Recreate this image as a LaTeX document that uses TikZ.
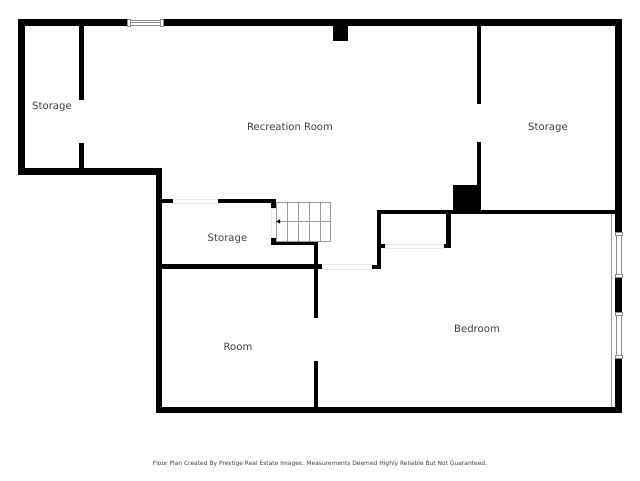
\documentclass[tikz,border=0pt]{standalone}
\usepackage{fontspec}
\usetikzlibrary{arrows.meta}
\setmainfont{DejaVu Sans}
\tikzset{
  wall/.style={line width=4.4pt, line cap=butt, line join=miter, black},
  outerwall/.style={line width=6.6pt, line cap=butt, line join=miter, black},
  block/.style={fill=black, draw=none},
  door/.style={fill=white, draw=black!8, line width=0.4pt},
  glass/.style={fill=white, draw=black!45, line width=0.5pt},
  tread/.style={draw=black!40, line width=0.5pt},
  roomlabel/.style={text=black!75, font=\fontsize{10.1}{12}\selectfont, inner sep=0pt},
}
\begin{document}
\begin{tikzpicture}[x=1pt, y=-1pt]
\useasboundingbox (0,0) rectangle (640,480);
% outer walls
\draw[outerwall] (21.3,171.6) -- (21.3,22.6) -- (618.6,22.6) -- (618.6,410) -- (159,410) -- (159,171.6) -- cycle;
% top window
\fill[white] (127,19) rectangle (163,26);
\draw[glass] (127,19.3) rectangle (130,26);
\draw[glass] (160,19.3) rectangle (163,26);
\draw[glass] (130,20.5) rectangle (160,24.8);
\draw[glass] (130,22.6) -- (160,22.6);
% right windows
\fill[white] (615,232) rectangle (622,277);
\draw[glass] (615,232) rectangle (622,235);
\draw[glass] (615,274) rectangle (622,277);
\draw[glass] (616,235) rectangle (621,274);
\fill[white] (615,312) rectangle (622,358);
\draw[glass] (615,312) rectangle (622,315);
\draw[glass] (615,355) rectangle (622,358);
\draw[glass] (616,315) rectangle (621,355);
\draw[draw=black!40, line width=0.7pt] (611,214) -- (611,407);
% inner walls
\draw[wall] (81.6,26) -- (81.6,100);
\draw[wall] (81.6,143) -- (81.6,168);
\draw[wall] (479,26) -- (479,104);
\draw[wall] (479,142) -- (479,210);
\draw[wall] (376.8,212.2) -- (615,212.2);
\draw[wall] (379,210) -- (379,269);
\draw[wall] (370.8,266.8) -- (381,266.8);
\draw[wall] (448.6,214) -- (448.6,248);
\draw[wall] (443.4,246) -- (450.8,246);
\draw[wall] (381,246) -- (384.8,246);
\draw[wall] (162,201.2) -- (173.4,201.2);
\draw[wall] (216.8,201.2) -- (275.8,201.2);
\draw[wall] (273.6,199) -- (273.6,207.8);
\draw[wall] (273.6,237) -- (273.6,245.2);
\draw[wall] (271.4,243) -- (317.8,243);
\draw[wall] (162,266.6) -- (322,266.6);
\draw[wall] (315.8,241) -- (315.8,317.8);
\draw[wall] (315.8,360.8) -- (315.8,407);
% chimney and corner blocks
\fill[block] (332.8,26) rectangle (348.4,41);
\fill[block] (453,185) rectangle (480,212);
% door openings
\draw[door] (173.4,199.4) rectangle (216.8,203.2);
\draw[door] (271.6,207.8) rectangle (275.8,237);
\draw[door] (322,264.6) rectangle (370.8,268.8);
\draw[door] (384.8,244.2) rectangle (443.4,247.8);
% stairs
\draw[tread] (275.8,202.4) rectangle (330.4,240.8);
\draw[tread] (286.8,202.4) -- (286.8,240.8);
\draw[tread] (297.8,202.4) -- (297.8,240.8);
\draw[tread] (308.8,202.4) -- (308.8,240.8);
\draw[tread] (319.8,202.4) -- (319.8,240.8);
\draw[tread, -{Latex[length=4pt,width=4.5pt,black]}] (330.4,221.4) -- (276,221.4);
% labels
\node[roomlabel] (storagewest) at (52,107) {Storage};
\node[roomlabel] (recreation) at (290,127) {Recreation Room};
\node[roomlabel] (storageeast) at (548,128) {Storage};
\node[roomlabel] (storagemid) at (227.5,239) {Storage};
\node[roomlabel] (room) at (238,347) {Room};
\node[roomlabel] (bedroom) at (477,329) {Bedroom};
\node[roomlabel, font=\fontsize{5.95}{7}\selectfont] (footer) at (320,464) {Floor Plan Created By Prestige Real Estate Images. Measurements Deemed Highly Reliable But Not Guaranteed.};
\end{tikzpicture}
\end{document}
